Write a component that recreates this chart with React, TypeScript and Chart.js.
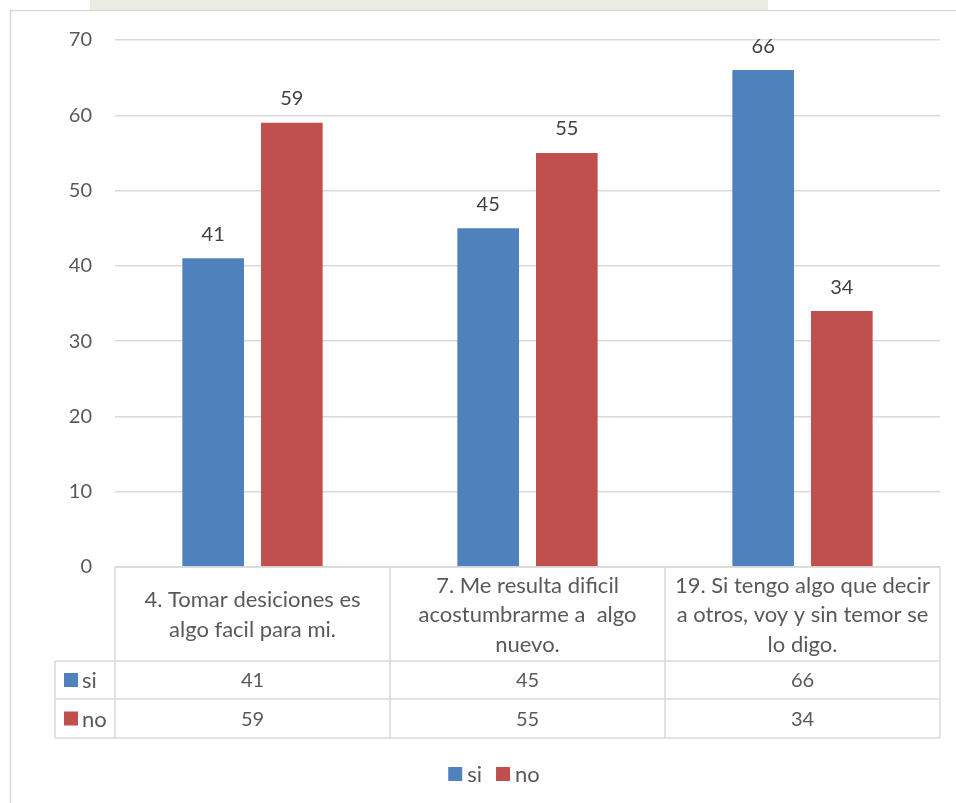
import React, { useEffect, useRef } from "react";
import { Chart, registerables } from "chart.js";

Chart.register(...registerables);

// ---- data ----
const categoryLines: string[][] = [
  ["4. Tomar desiciones es", "algo facil para mi."],
  ["7. Me resulta dificil", "acostumbrarme a  algo", "nuevo."],
  ["19. Si tengo algo que decir", "a otros, voy y sin temor se", "lo digo."],
];
const seriesNames = ["si", "no"];
const siValues = [41, 45, 66];
const noValues = [59, 55, 34];
const yMin = 0;
const yMax = 70;
const yStep = 10;

const seriesColors = ["#4F81BD", "#C0504D"];

const W = 956;
const H = 803;
const FONT = "Lato, 'Open Sans', sans-serif";
const TEXT = "#595959";
const LINE = "#d9d9d9";

const decorPlugin = {
  id: "excelDecor",
  beforeDraw(chart: any) {
    const ctx = chart.ctx as CanvasRenderingContext2D;
    ctx.save();
    ctx.fillStyle = "#ffffff";
    ctx.fillRect(0, 0, W, H);
    ctx.fillStyle = "#ecebe4";
    ctx.fillRect(90, 0, 678, 10);
    ctx.strokeStyle = LINE;
    ctx.lineWidth = 1.5;
    ctx.beginPath();
    ctx.moveTo(10.5, H);
    ctx.lineTo(10.5, 10.5);
    ctx.lineTo(W, 10.5);
    ctx.stroke();
    ctx.restore();
  },
  afterDatasetsDraw(chart: any) {
    const ctx = chart.ctx as CanvasRenderingContext2D;
    ctx.save();
    ctx.font = `20px ${FONT}`;
    ctx.fillStyle = "#404040";
    ctx.textAlign = "center";
    ctx.textBaseline = "alphabetic";
    chart.data.datasets.forEach((ds: any, di: number) => {
      const meta = chart.getDatasetMeta(di);
      meta.data.forEach((bar: any, i: number) => {
        ctx.fillText(String(ds.data[i]), bar.x, bar.y - 17.5);
      });
    });
    ctx.restore();
  },
  afterDraw(chart: any) {
    const ctx = chart.ctx as CanvasRenderingContext2D;
    const xs = chart.scales.x;
    const area = chart.chartArea;
    const labels = chart.data.labels as string[][];
    const n = labels.length;
    const step = n > 1 ? xs.getPixelForValue(1) - xs.getPixelForValue(0) : area.width;
    const colEdge = (i: number) => xs.getPixelForValue(0) - step / 2 + i * step;
    const top = area.bottom;
    const hdrBottom = top + 94;
    const rowH = [38, 39];
    const legendLeft = 55;
    const rowTops = [hdrBottom, hdrBottom + rowH[0]];
    const tableBottom = hdrBottom + rowH[0] + rowH[1];

    ctx.save();
    ctx.strokeStyle = LINE;
    ctx.lineWidth = 1.5;
    const line = (x1: number, y1: number, x2: number, y2: number) => {
      ctx.beginPath();
      ctx.moveTo(x1, y1);
      ctx.lineTo(x2, y2);
      ctx.stroke();
    };
    line(colEdge(0), top, colEdge(n), top);
    line(legendLeft, hdrBottom, colEdge(n), hdrBottom);
    line(legendLeft, rowTops[1], colEdge(n), rowTops[1]);
    line(legendLeft, tableBottom, colEdge(n), tableBottom);
    for (let i = 0; i <= n; i++) line(colEdge(i), top, colEdge(i), tableBottom);
    line(legendLeft, hdrBottom, legendLeft, tableBottom);

    ctx.fillStyle = TEXT;
    ctx.font = `22px ${FONT}`;
    ctx.textAlign = "center";
    ctx.textBaseline = "middle";
    const lineH = 29.5;
    const hdrCy = (top + hdrBottom) / 2;
    labels.forEach((lines, i) => {
      const cx = xs.getPixelForValue(i);
      const start = hdrCy - ((lines.length - 1) * lineH) / 2;
      lines.forEach((t, k) => ctx.fillText(t, cx, start + k * lineH + 1));
    });

    chart.data.datasets.forEach((ds: any, r: number) => {
      const cy = rowTops[r] + rowH[r] / 2;
      ctx.fillStyle = ds.backgroundColor;
      ctx.fillRect(64, cy - 7, 14, 14);
      ctx.fillStyle = TEXT;
      ctx.textAlign = "left";
      ctx.font = `22px ${FONT}`;
      ctx.fillText(ds.label, 82, cy + 1);
      ctx.textAlign = "center";
      ctx.font = `20px ${FONT}`;
      ds.data.forEach((v: number, i: number) => {
        ctx.fillText(String(v), xs.getPixelForValue(i), cy + 1);
      });
    });

    // bottom legend
    ctx.font = `22px ${FONT}`;
    const ly = 774;
    const items = chart.data.datasets.map((ds: any) => ({
      label: ds.label,
      color: ds.backgroundColor,
      w: ctx.measureText(ds.label).width,
    }));
    const box = 14;
    const gapBT = 5;
    const gapItem = 14;
    let total = 0;
    items.forEach((it: any, k: number) => {
      total += box + gapBT + it.w + (k < items.length - 1 ? gapItem : 0);
    });
    let lx = 494 - total / 2;
    ctx.textAlign = "left";
    items.forEach((it: any) => {
      ctx.fillStyle = it.color;
      ctx.fillRect(lx, ly - 7, box, box);
      lx += box + gapBT;
      ctx.fillStyle = TEXT;
      ctx.fillText(it.label, lx, ly + 1);
      lx += it.w + gapItem;
    });
    ctx.restore();
  },
};

export default function App() {
  const ref = useRef<HTMLCanvasElement | null>(null);
  useEffect(() => {
    if (!ref.current) return;
    const chart = new Chart(ref.current, {
      type: "bar",
      data: {
        labels: categoryLines as any,
        datasets: [
          {
            label: seriesNames[0],
            data: siValues,
            backgroundColor: seriesColors[0],
            categoryPercentage: 0.572,
            barPercentage: 0.784,
          },
          {
            label: seriesNames[1],
            data: noValues,
            backgroundColor: seriesColors[1],
            categoryPercentage: 0.572,
            barPercentage: 0.784,
          },
        ],
      },
      options: {
        animation: false,
        responsive: false,
        devicePixelRatio: 1,
        layout: { padding: { top: 40, right: 16, bottom: 236, left: 0 } },
        plugins: {
          legend: { display: false },
          tooltip: { enabled: false },
        },
        scales: {
          x: { display: false },
          y: {
            min: yMin,
            max: yMax,
            ticks: {
              stepSize: yStep,
              color: TEXT,
              font: { family: FONT, size: 20 },
              padding: 23,
            },
            grid: { color: LINE, lineWidth: 1.5, drawTicks: false },
            border: { display: false },
            afterFit: (scale: any) => {
              scale.width = 115;
              scale.paddingTop = 0;
              scale.paddingBottom = 0;
            },
          },
        },
      },
      plugins: [decorPlugin],
    } as any);
    return () => chart.destroy();
  }, []);
  return (
    <div style={{ position: "fixed", left: 0, top: 0, width: W, height: H, background: "#fff" }}>
      <canvas ref={ref} width={W} height={H} style={{ width: W, height: H, display: "block" }} />
    </div>
  );
}
